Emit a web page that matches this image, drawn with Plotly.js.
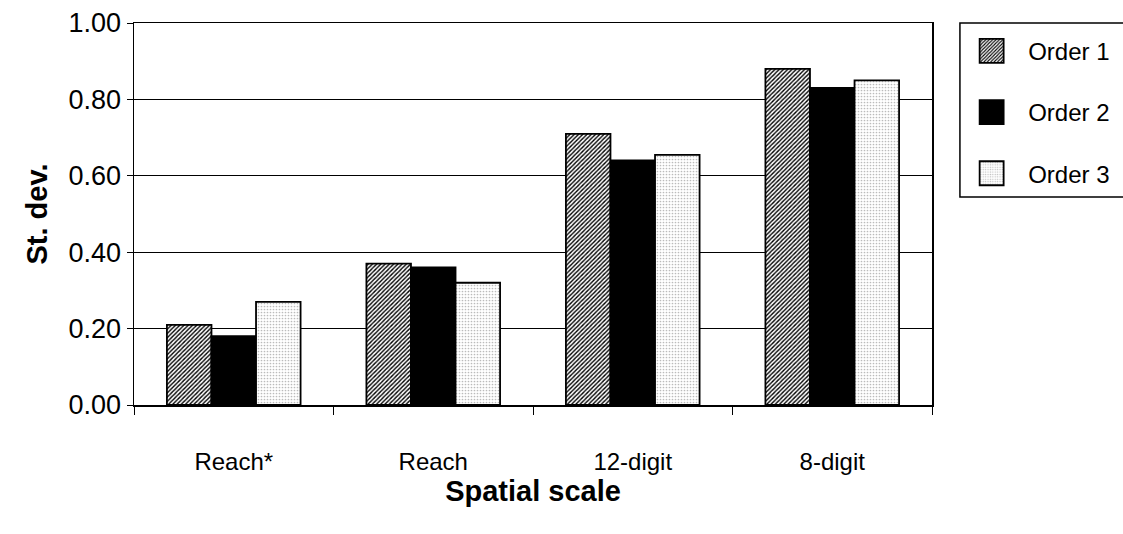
<!DOCTYPE html>
<html>
<head>
<meta charset="utf-8">
<script src="https://cdn.plot.ly/plotly-3.0.1.min.js"></script>
<style>html,body{margin:0;padding:0;background:#fff;}#chart{width:1123px;height:534px;}</style>
</head>
<body>
<div id="chart"></div>
<script>
const categories = ["Reach*", "Reach", "12-digit", "8-digit"];
const order1 = [0.21, 0.37, 0.71, 0.88];
const order2 = [0.18, 0.36, 0.64, 0.83];
const order3 = [0.27, 0.32, 0.655, 0.85];
const seriesNames = ["Order 1", "Order 2", "Order 3"];
const yTickVals = [0, 0.2, 0.4, 0.6, 0.8, 1.0];
const yTickText = ["0.00", "0.20", "0.40", "0.60", "0.80", "1.00"];

const FONT = "Liberation Sans, Arial, sans-serif";
const outline = {color: "#000", width: 1.8};

const traces = [
  {type: "bar", name: seriesNames[0], x: categories, y: order1, legendgroup: "a",
   marker: {color: "#fff", line: outline,
            pattern: {shape: "/", fgcolor: "#000", bgcolor: "#fff", size: 3, solidity: 0.45}}},
  {type: "bar", name: seriesNames[1], x: categories, y: order2, legendgroup: "b",
   marker: {color: "#000", line: outline}},
  {type: "bar", name: seriesNames[2], x: categories, y: order3, legendgroup: "c",
   marker: {color: "#fff", line: outline,
            pattern: {shape: ".", fgcolor: "#bbb", bgcolor: "#fff", size: 3, solidity: 0.25}}}
];

const layout = {
  width: 1123, height: 534,
  paper_bgcolor: "#fff", plot_bgcolor: "#fff",
  margin: {l: 134, r: 191, t: 23, b: 129, autoexpand: false},
  font: {family: FONT, size: 26, color: "#000"},
  barmode: "group", bargap: 0.33, bargroupgap: 0,
  showlegend: true,
  legend: {x: 1.029, xanchor: "left", y: 0.985, yanchor: "top",
           borderwidth: 0, bgcolor: "rgba(0,0,0,0)",
           font: {family: FONT, size: 24, color: "#000"},
           traceorder: "grouped", tracegroupgap: 27,
           itemwidth: 63, itemclick: false},
  shapes: [
    {type: "rect", xref: "paper", yref: "paper", x0: 1.035, x1: 1.26, y0: 0.5445, y1: 1.0,
     line: {color: "#000", width: 1.5}, fillcolor: "rgba(0,0,0,0)", layer: "below"}
  ],
  xaxis: {type: "category", showline: true, linecolor: "#000", linewidth: 1.5, mirror: true,
          ticks: "outside", tickson: "boundaries", ticklen: 8, tickcolor: "#000", tickwidth: 1,
          ticklabelstandoff: 35, showgrid: false, zeroline: false,
          tickfont: {family: FONT, size: 24},
          title: {text: "Spatial scale", font: {family: FONT, size: 29, weight: "bold"}, standoff: 6}},
  yaxis: {range: [0, 1], tickvals: yTickVals, ticktext: yTickText,
          showline: true, linecolor: "#000", linewidth: 1.5, mirror: true,
          ticks: "outside", ticklen: 6, tickcolor: "#000",
          showgrid: true, gridcolor: "#000", gridwidth: 1, zeroline: false,
          tickfont: {family: FONT, size: 27},
          title: {text: "St. dev.", font: {family: FONT, size: 29, weight: "bold"}, standoff: 12}}
};

function enlargeSwatches() {
  document.querySelectorAll("g.legend g.legendpoints path").forEach(function (p) {
    p.setAttribute("d", "M12,12H-12V-12H12Z");
  });
}

Plotly.newPlot("chart", traces, layout, {displayModeBar: false, staticPlot: true}).then(function () {
  enlargeSwatches();
  setTimeout(enlargeSwatches, 50);
});
</script>
</body>
</html>
